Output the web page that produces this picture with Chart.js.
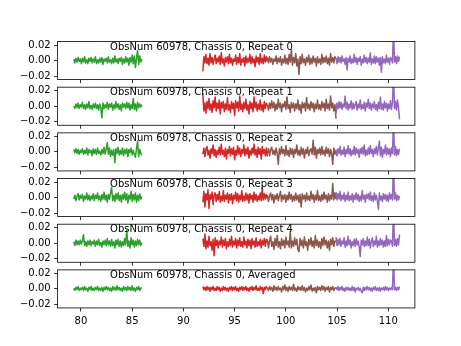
<!DOCTYPE html>
<html><head><meta charset="utf-8">
<script src="https://cdn.jsdelivr.net/npm/chart.js@4"></script>
<style>
html,body{margin:0;padding:0;background:#fff;}
#wrap{position:relative;width:461px;height:346px;overflow:hidden;}
#wrap canvas{position:absolute;left:0;top:0;}
</style>
</head><body><div id="wrap"></div>
<script>
// ---- data (y values in units of 1e-3) ----
const panelTitles = [
  'ObsNum 60978, Chassis 0, Repeat 0',
  'ObsNum 60978, Chassis 0, Repeat 1',
  'ObsNum 60978, Chassis 0, Repeat 2',
  'ObsNum 60978, Chassis 0, Repeat 3',
  'ObsNum 60978, Chassis 0, Repeat 4',
  'ObsNum 60978, Chassis 0, Averaged'
];
const bandStart = [79.3, 91.9, 98.2, 104.9];
const bandEnd   = [85.95, 98.2, 104.9, 111.1];

const greenBand = [
  [2,-3,3,-2,4,-1,2,-4, 3,-2,5,-3,1,-4,3,-1, 4,-3,2,-2,5,-4,1,-3, 3,-2,4,-5,2,-1,3,-3,
   5,-2,1,-4,3,-3,6,-2, 2,-4,3,-1,4,-5,2,-3, 5,-2,3,-6,4,-2,7,-4, 6,-9,3,13,-5,6,-2,2],
  [0,-3,3,-2,4,-3,2,-1, 5,-3,2,-4,3,-2,6,-3, 1,-4,3,-2,4,-3,2,-5, 3,-2,-15,4,-3,2,-2,5,
   -4,3,-1,4,-5,2,-3,6, -2,3,-4,2,-6,4,-1,3, -3,5,-2,4,-5,2,-3,10, -4,3,-6,5,-2,3,-1,2],
  [3,-1,4,-2,3,-3,2,-1, 4,-3,2,-2,5,-4,3,-1, 2,-5,4,-2,3,-3,5,-2, 1,-4,3,-2,6,-3,4,12,
   -3,5,-6,2,-4,3,-14,4, -2,6,-4,2,-3,5,-5,3, -2,4,-6,3,-1,5,-4,2, -3,-7,4,14,-6,3,-2,-4],
  [-2,3,-4,2,5,-3,3,-1, 4,-5,2,-2,6,-3,3,-4, 2,-2,5,-4,3,-1,6,-3, 2,-5,4,-2,7,-3,3,-6,
   4,-2,6,13,-4,3,-5,5, -2,6,-4,3,-6,4,-2,7, -3,5,-7,3,-2,8,-5,4, -3,6,-6,3,-4,5,-2,1],
  [2,-3,4,-2,3,-2,4,-1, 3,11,-3,2,-4,3,-2,4, -3,2,-1,4,-4,3,-2,5, -3,1,-5,3,-2,4,-3,6,
   -2,3,-4,5,-3,2,-6,4, -2,5,-4,3,-5,2,-3,6, -2,17,-4,3,-6,7,-2,4, -5,3,-3,5,-2,4,-3,1],
  [1,-2,2,-1,3,-2,1,-1, 2,-2,3,-1,1,-3,2,-1, 3,-2,1,-2,2,-1,3,-2, 1,-2,2,-3,2,-1,3,-1,
   2,-2,1,-3,3,-1,2,-2, 4,-1,2,-2,1,-3,3,-1, 2,-2,3,-1,2,-2,4,-2, 1,-3,2,-1,3,-2,1,1]
];
const redBand = [
  [-14,5,-3,8,-4,3,-6,9, -3,4,-5,2,7,-4,3,-2, 6,-5,10,-3,2,-7,4,-2, 5,-4,8,-3,3,-6,2,-1,
   7,-5,4,-3,9,-6,2,-2, 4,-7,6,-3,3,-2,8,-4, 5,-3,2,-8,6,-2,4,-5, 9,-3,3,-4,7,-2,5,-1],
  [17,-6,4,-9,6,-3,10,-5, 3,-8,7,-2,12,-6,4,-3, 8,-10,5,-2,6,-7,3,-4, 11,-5,2,-8,6,-3,4,-12,
   7,-2,5,-6,13,-4,3,-7, 5,-3,9,-5,2,-10,6,-3, 4,-7,12,-2,5,-6,3,-4, 8,-5,2,-7,6,-3,4,2],
  [-3,5,-6,3,7,-4,2,-8, 4,-2,9,-5,3,-7,2,-3, 6,-4,10,-3,2,-6,5,-9, 3,-2,7,-5,4,-3,6,-10,
   2,-4,8,-3,5,-6,3,-2, 9,-5,4,-3,6,-8,2,-4, 5,-2,10,-4,3,-7,6,-3, 4,-9,7,-2,3,-5,5,-6],
  [-6,8,-12,5,-3,10,-14,4, -2,7,-9,3,6,-5,4,-3, 8,-6,2,-4,9,-5,3,-2, 6,-7,4,-3,5,-8,3,-2,
   7,-4,5,-6,3,-3,9,-5, 2,-4,6,-3,4,-7,5,-2, 3,-6,7,-3,4,-5,2,-3, 6,-4,13,-3,5,-2,4,-1],
  [6,-4,12,-7,3,-5,9,-3, 2,-9,5,-16,7,-3,4,-6, 3,-2,8,-5,4,-3,6,-7, 2,-4,5,-3,9,-5,3,-2,
   6,-6,4,-3,7,-4,2,-5, 8,-2,3,-6,5,-3,4,-7, 6,-2,3,-5,7,-4,2,-3, 5,-6,4,-2,6,-4,5,1],
  [3,-1,2,-2,3,-1,2,-3, 2,-1,3,-2,1,-2,3,-1, 2,-3,1,-2,3,-1,2,-2, 1,-3,2,-1,3,-2,2,-1,
   3,-2,1,-3,2,-1,3,-2, 2,-1,3,-2,1,-3,2,-1, 3,-2,2,-1,4,-2,1,-2, 3,-1,2,-6,2,-1,3,1]
];
const brownBand = [
  [4,-3,5,-2,3,-5,2,-1, 6,-4,3,-2,5,-6,2,-3, 7,-4,3,-5,8,-2,14,-6, 4,-3,9,-7,2,-18,5,-4,
   8,-3,2,-6,4,-2,7,-5, 3,-4,6,-2,3,-7,5,-3, 2,-5,8,-3,4,-2,6,-4, 3,-6,9,-2,4,-3,5,2],
  [2,-5,4,-3,7,-2,5,-6, 3,-4,9,-2,4,-7,3,-1, 6,-4,12,-3,2,-8,5,-2, 4,-6,3,-3,8,-5,2,-9,
   5,-2,4,-6,11,-3,3,-5, 6,-2,4,-7,3,-3,8,-4, 2,-5,6,-2,4,-6,9,-3, 3,-5,13,-2,4,-6,2,-16],
  [-2,4,-5,3,6,-3,2,-4, 5,-2,-16,4,-3,7,-2,3, -5,8,-4,2,-6,5,-3,4, -7,3,-2,9,-4,2,-5,6,
   -3,4,-8,3,-2,6,-5,2, 4,-3,15,-4,6,-8,3,-2, 5,-4,7,-3,2,-5,6,-2, 4,-6,3,-2,-16,5,-3,2],
  [3,-5,2,6,-3,4,-7,3, -2,5,-4,2,8,-5,3,-2, 4,-6,3,-3,7,-2,4,-5, 2,-4,6,-3,3,-6,4,-12,
   5,-2,3,-5,6,-3,2,-4, 8,-2,4,-6,3,-3,9,-4, 2,-5,4,-3,7,-2,3,-6, 5,-4,3,-2,18,-3,6,-2],
  [5,-6,3,9,-4,2,-8,6, -3,10,-5,2,-7,6,-3,4, -6,8,-2,3,-5,15,-6,3, -4,7,-2,5,-8,-11,6,-3,
   4,-6,8,-3,2,-9,5,-2, 7,-4,3,-6,10,-3,4,-5, 2,-7,6,-3,8,-2,4,-6, 3,-9,5,-2,7,-4,3,2],
  [1,-2,3,-1,2,-3,4,-1, 2,-2,3,-1,1,-4,3,-1, 5,-2,2,-3,3,-1,2,-2, 6,-2,1,-3,3,-1,2,-2,
   4,-2,2,-4,1,-2,3,-1, 5,-3,1,-2,2,-5,3,-1, 2,-2,4,-1,3,-3,2,-1, 3,-4,2,-1,3,-2,1,2]
];
const purpleBand = [
  [3,-4,5,-2,4,-3,6,-1, 2,-5,4,-12,3,-2,6,-4, 2,-3,8,-2,4,-5,3,-1, 5,-6,2,-3,7,-2,4,-4,
   3,-2,10,-5,2,-3,6,-4, 5,-2,3,-6,4,-15,5,-3, 2,-4,7,-2,3,-5,4,2, -3,45,-2,5,-4,6,-1,5],
  [-10,4,-3,6,-2,5,-4,3, -1,13,-3,5,-5,3,-2,7, -4,4,-3,2,6,-5,3,-2, 8,-4,2,-3,5,-6,4,-1,
   9,-3,4,-5,3,-2,6,-4, 2,-6,5,-3,12,-4,3,-5, 6,-2,4,-6,3,-3,7,-4, 5,45,-3,6,-5,8,-2,-17],
  [3,-5,4,-2,7,-4,2,-3, 6,-6,3,-2,8,-3,4,-5, 2,-3,7,-4,5,-2,3,-7, 4,-2,6,-3,9,-5,2,-4,
   5,-3,8,-2,3,-6,4,-2, 7,-4,5,14,-5,6,-7,3, -2,9,-4,5,-3,4,-6,5, -2,45,-4,7,-5,3,-3,4],
  [7,-3,5,-2,8,-4,3,-2, 6,-5,3,-3,7,-4,2,-3, 5,-6,3,-2,6,-3,4,-5, 2,-4,9,-2,3,-6,4,-1,
   5,-3,7,-4,2,-5,6,-3, 3,-4,-15,6,-3,2,-5,5, -2,4,-4,3,-5,6,-2,4, -3,45,-2,6,-4,3,-3,2],
  [8,-3,5,-2,6,-4,3,-1, 7,-5,3,-3,9,-2,4,-6, 2,-3,5,-4,6,-2,3,-5, -17,4,-2,6,-4,3,-3,8,
   -3,5,-6,2,7,-4,3,-2, 9,-5,3,-3,6,-2,4,-5, 3,-4,10,-3,5,-2,4,3, -4,45,-3,5,-4,6,-2,11],
  [2,-1,3,-2,2,-1,3,-2, 1,-3,2,-1,2,-2,1,-2, 3,-2,2,-4,1,-1,2,-2, 1,-3,-5,2,-2,2,-1,3,
   -1,2,-2,1,-3,2,-1,3, -2,1,-2,2,-3,1,-1,2, -2,3,-1,2,-2,1,-1,2, -1,45,-1,2,-2,2,-1,3]
];
const xTicks = [80, 85, 90, 95, 100, 105, 110];
const xTickLabels = ['80', '85', '90', '95', '100', '105', '110'];
const yTicks = [-20, 0, 20];
const yTickLabels = ['\u22120.02', '0.00', '0.02'];

// ---- layout / style ----
const bands = [greenBand, redBand, brownBand, purpleBand];
const bandColors = ['#2ca02c', '#d62728', '#8c564b', '#9467bd'];
const FIG_W = 461, FIG_H = 346;
const AX_LEFT = 57.6, AX_RIGHT = 414.9, AX_TOP = 41.52, PANEL_H = 38.06, PANEL_STEP = 45.67;
const Y_AXIS_W = 50, X_AXIS_H = 20;
const FONT = {family: '"DejaVu Sans", sans-serif', size: 10};

const framePlugin = {
  id: 'panelFrame',
  afterDraw(chart, args, opts) {
    const {ctx, chartArea: a} = chart;
    ctx.save();
    ctx.strokeStyle = '#000';
    ctx.lineWidth = 0.8;
    ctx.strokeRect(a.left, a.top, a.right - a.left, a.bottom - a.top);
    ctx.fillStyle = '#000';
    ctx.font = '10px "DejaVu Sans", sans-serif';
    ctx.textAlign = 'left';
    ctx.textBaseline = 'alphabetic';
    ctx.fillText(opts.text, a.left + 0.1467 * (a.right - a.left), a.top + 8);
    ctx.restore();
  }
};

const wrap = document.getElementById('wrap');
for (let p = 0; p < panelTitles.length; p++) {
  const cv = document.createElement('canvas');
  cv.width = FIG_W; cv.height = FIG_H;
  cv.style.width = FIG_W + 'px'; cv.style.height = FIG_H + 'px';
  wrap.appendChild(cv);
  const isLast = p === panelTitles.length - 1;
  const top = AX_TOP + p * PANEL_STEP;
  const datasets = bands.map((band, k) => {
    const vals = band[p];
    const step = (bandEnd[k] - bandStart[k]) / (vals.length - 1);
    return {
      data: vals.map((v, i) => ({x: bandStart[k] + i * step, y: v})),
      borderColor: bandColors[k],
      backgroundColor: bandColors[k],
      borderWidth: 1.5,
      pointRadius: 0,
      fill: false,
      tension: 0,
      borderJoinStyle: 'round',
      order: 3 - k,
      clip: 0
    };
  });
  const tickGrid = {drawOnChartArea: false, drawTicks: true, tickLength: 3.5, tickColor: '#000', tickWidth: 0.8, color: '#000', lineWidth: 0.8};
  new Chart(cv, {
    type: 'line',
    data: {datasets},
    options: {
      responsive: false,
      animation: false,
      devicePixelRatio: 1,
      events: [],
      layout: {padding: {
        left: AX_LEFT - Y_AXIS_W,
        right: FIG_W - AX_RIGHT,
        top: top,
        bottom: FIG_H - (top + PANEL_H) - X_AXIS_H
      }},
      plugins: {legend: {display: false}, tooltip: {enabled: false}, title: {display: false}, panelFrame: {text: panelTitles[p]}},
      scales: {
        x: {
          type: 'linear', min: 77.72, max: 112.6,
          afterBuildTicks: s => { s.ticks = xTicks.map(v => ({value: v})); },
          afterFit: s => { s.height = X_AXIS_H; },
          grid: tickGrid,
          border: {display: false},
          ticks: {display: isLast, color: '#000', font: FONT, padding: 3.5, maxRotation: 0, autoSkip: false,
                  callback: (v, i) => xTickLabels[i]}
        },
        y: {
          type: 'linear', min: -24.5, max: 24.5,
          afterBuildTicks: s => { s.ticks = yTicks.map(v => ({value: v})); },
          afterFit: s => { s.width = Y_AXIS_W; },
          grid: tickGrid,
          border: {display: false},
          ticks: {color: '#000', font: FONT, padding: 3.5, autoSkip: false,
                  callback: (v, i) => yTickLabels[i]}
        }
      }
    },
    plugins: [framePlugin]
  });
}
</script>
</body></html>
